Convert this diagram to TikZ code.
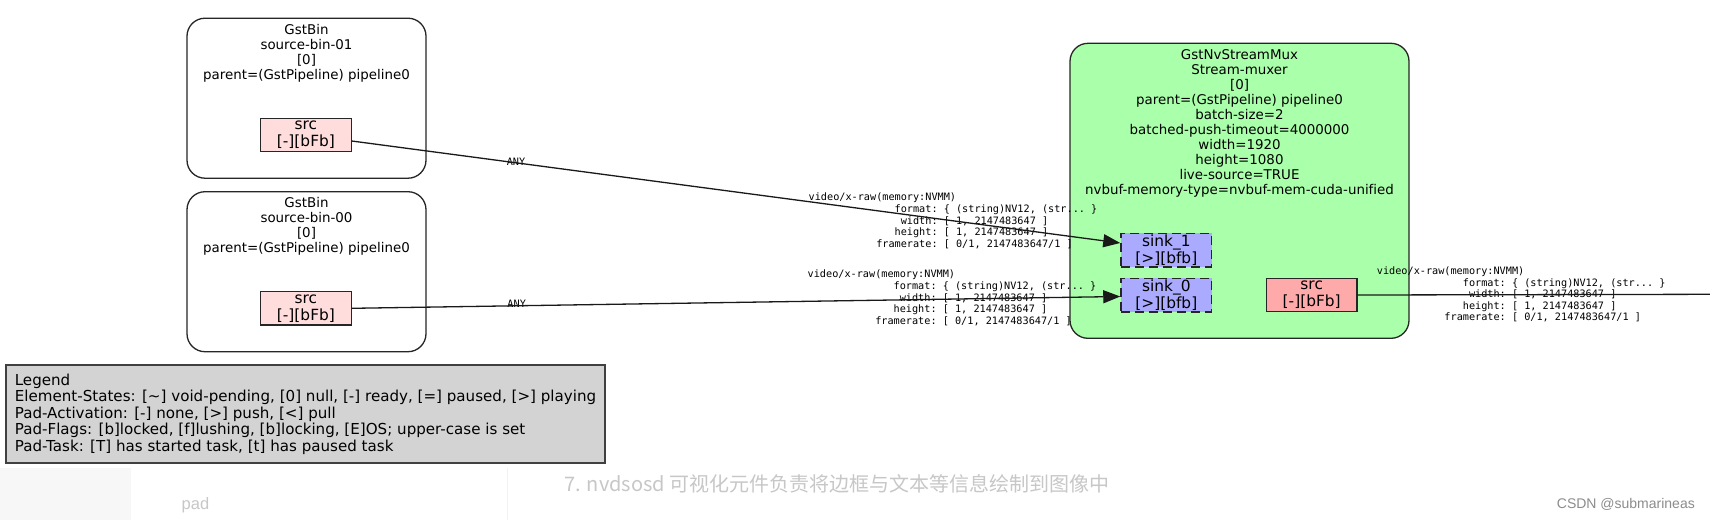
\documentclass[tikz,border=0pt]{standalone}
\usepackage{fontspec}
\setmainfont{DejaVu Sans}[Ligatures=CommonOff]
\setmonofont{DejaVu Sans Mono}
\newfontfamily\cjkfont{Noto Sans CJK SC}
\newfontfamily\webfont{Liberation Sans}
\usepackage{tikz}
\usetikzlibrary{arrows.meta, calc}
\definecolor{muxgreen}{HTML}{AAFFAA}
\definecolor{ghostpink}{HTML}{FFDDDD}
\definecolor{srcpink}{HTML}{FFAAAA}
\definecolor{sinkblue}{HTML}{AAAAFF}
\definecolor{legendgray}{HTML}{D3D3D3}
\newcommand{\nvmmcaps}{video/x-raw(memory:NVMM)\\
~~~~~~~~~~~~~~format: \{ (string)NV12, (str... \}\\
~~~~~~~~~~~~~~~width: [ 1, 2147483647 ]\\
~~~~~~~~~~~~~~height: [ 1, 2147483647 ]\\
~~~~~~~~~~~framerate: [ 0/1, 2147483647/1 ]}
\tikzset{
  bin box/.style={
    draw=black!85,
    line width=1.3pt,
    rounded corners=18pt,
    fill=white,
    minimum width=239pt,
    minimum height=160pt
  },
  mux box/.style={
    bin box,
    fill=muxgreen,
    minimum width=339pt,
    minimum height=295pt
  },
  elem text/.style={
    align=center,
    inner sep=0pt,
    font=\fontsize{13.4}{15}\selectfont
  },
  pad box/.style={
    draw=black!85,
    line width=1.3pt,
    minimum width=90.5pt,
    minimum height=33.4pt,
    inner sep=0pt,
    align=center,
    font=\fontsize{15.4}{17}\selectfont
  },
  src pad/.style={
    pad box,
    fill=ghostpink
  },
  sink pad/.style={
    pad box,
    fill=sinkblue,
    line width=1.6pt,
    dash pattern=on 9pt off 5pt
  },
  caps label/.style={
    align=left,
    anchor=west,
    inner sep=0pt,
    font=\fontsize{10.2}{11.6}\selectfont\ttfamily\frenchspacing
  },
  any label/.style={
    inner sep=0pt,
    font=\fontsize{10.2}{11.6}\selectfont\ttfamily
  },
  pipe/.style={
    -{Triangle[length=17pt, width=13pt]},
    line width=1.3pt,
    draw=black!90
  },
  legend box/.style={
    draw=black!75,
    line width=2pt,
    fill=legendgray,
    align=left,
    inner sep=0pt,
    minimum width=599pt,
    minimum height=97.4pt,
    font=\fontsize{15.1}{16.5}\selectfont
  },
  faint note/.style={
    inner sep=0pt,
    text=black!22
  }
}
\begin{document}
\begin{tikzpicture}[x=1pt, y=-1pt]
    \useasboundingbox[fill=white] (0,0) rectangle (1710,520);

    % 两个 source bin
    \node[bin box] (binA) at (306.5,98.2) {};
    \node[elem text] (binAtitle) at ($(binA.north)+(0,36)$)
      {GstBin\\source-bin-01\\{[0]}\\parent=(GstPipeline) pipeline0};
    \node[src pad] (srcA) at (305.9,135) {src\\{[-][bFb]}};

    \node[bin box] (binB) at (306.5,271.7) {};
    \node[elem text] (binBtitle) at ($(binB.north)+(0,35)$)
      {GstBin\\source-bin-00\\{[0]}\\parent=(GstPipeline) pipeline0};
    \node[src pad] (srcB) at (305.9,308.3) {src\\{[-][bFb]}};

    % streammux
    \node[mux box] (mux) at (1239.5,190.8) {};
    \node[elem text] (muxtitle) at ($(mux.north)+(0,80.6)$)
      {GstNvStreamMux\\Stream-muxer\\{[0]}\\parent=(GstPipeline) pipeline0\\
       batch-size=2\\batched-push-timeout=4000000\\width=1920\\height=1080\\
       live-source=TRUE\\nvbuf-memory-type=nvbuf-mem-cuda-unified};
    \node[sink pad] (sinkA) at (1166.3,250) {sink\_1\\{[>][bfb]}};
    \node[sink pad] (sinkB) at (1166.3,295) {sink\_0\\{[>][bfb]}};
    \node[pad box, fill=srcpink] (muxsrc) at (1311.7,295) {src\\{[-][bFb]}};
    \coordinate (outR) at (1710,294.3);

    % caps 标签
    \node[any label] (anyA) at (516,161.7) {ANY};
    \node[any label] (anyB) at (516.7,304) {ANY};
    \node[caps label] (capsA) at (808.5,221) {\nvmmcaps};
    \node[caps label] (capsB) at (807.5,298) {\nvmmcaps};
    \node[caps label] (capsC) at (1376.7,294.5) {\nvmmcaps};

    % 连线
    \draw[pipe] ([yshift=-6pt]srcA.east) -- ([yshift=7pt]sinkA.west);
    \draw[pipe] (srcB.east) -- ([yshift=-1.5pt]sinkB.west);
    \draw[line width=1.3pt, black!90] (muxsrc.east) -- (outR);

    % 图例
    \node[legend box] (legend) at (305.5,414)
      {Legend\\Element-States: [\textasciitilde] void-pending, [0] null, [-] ready, [=] paused, [>] playing\\
       Pad-Activation: [-] none, [>] push, [<] pull\\
       Pad-Flags: [b]locked, [f]lushing, [b]locking, [E]OS; upper-case is set\\
       Pad-Task: [T] has started task, [t] has paused task};

    % 截图下方的网页残留
    \fill[black!3] (0,468) rectangle (131,520);
    \draw[black!5] (507,468) -- (507,520);
    \node[faint note, font=\webfont\fontsize{16.5}{18}\selectfont] (padnote) at (195.5,505) {pad};
    \node[faint note, anchor=west, font=\cjkfont\fontsize{20}{22}\selectfont] (osdnote) at (564,484)
      {7. nvdsosd 可视化元件负责将边框与文本等信息绘制到图像中};
    \node[inner sep=0pt, anchor=east, text=black!45, font=\webfont\fontsize{14}{16}\selectfont] (csdn) at (1695,504)
      {CSDN @submarineas};
\end{tikzpicture}
\end{document}
